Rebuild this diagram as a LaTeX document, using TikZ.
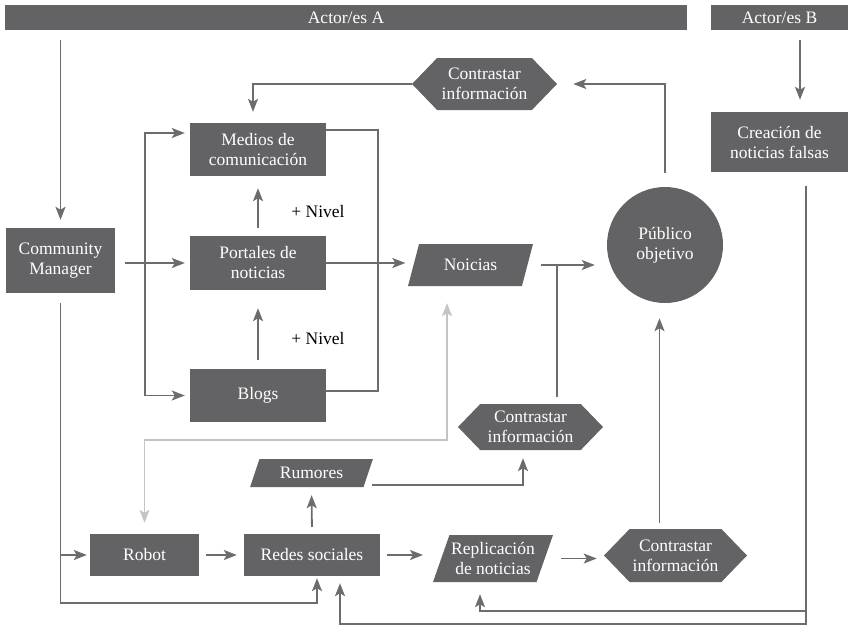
\documentclass[tikz,border=0pt]{standalone}
\usepackage{fontspec}
\setmainfont{Liberation Serif}
\usepackage{tikz}
\usetikzlibrary{arrows.meta,shapes.geometric,shapes.symbols,calc}
\definecolor{boxgray}{RGB}{99,99,101}
\definecolor{linegray}{RGB}{108,108,110}
\definecolor{lightgray}{RGB}{196,196,198}
\tikzset{
	box/.style={fill=boxgray, text=white, align=center, inner sep=0pt,
			font=\fontsize{17.5}{20}\selectfont},
	hexa/.style={box, signal, signal to=west and east, signal pointer angle=92},
	para/.style={box, trapezium, trapezium left angle=64, trapezium right angle=116,
			trapezium stretches=true},
	wire/.style={draw=linegray, line width=1.8pt},
	conn/.style={wire, -{Stealth[length=13pt,width=10pt,inset=3pt]}},
	softconn/.style={draw=lightgray, line width=1.8pt,
			{Stealth[length=13pt,width=10pt,inset=3pt]}-{Stealth[length=13pt,width=10pt,inset=3pt]}},
	note/.style={font=\fontsize{17.5}{20}\selectfont}
}

\begin{document}
\begin{tikzpicture}[x=1pt,y=-1pt]
	\useasboundingbox (0,0) rectangle (854,627);
	% actors
	\node[box, minimum width=682, minimum height=25] (barA) at (346,17.5) {Actor/es A};
	\node[box, minimum width=137, minimum height=25] (barB) at (779.5,17.5) {Actor/es B};

	\node[box, minimum width=109, minimum height=65] (cm) at (60.5,260.5) {Community\\Manager};
	\node[box, minimum width=136, minimum height=53] (medios) at (258,149.5) {Medios de\\comunicación};
	\node[box, minimum width=136, minimum height=54] (port) at (258,263) {Portales de\\noticias};
	\node[box, minimum width=136, minimum height=53] (blogs) at (258,395.5) {Blogs};
	\node[note] (niv1) at (318,212) {+ Nivel};
	\node[note] (niv2) at (318,339) {+ Nivel};

	\node[hexa, minimum width=145, minimum height=52] (ctop) at (484.5,84) {Contrastar\\información};
	\node[para, minimum width=125, minimum height=42] (noic) at (470.5,265) {Noicias};
	\node[box, circle, minimum size=116] (pub) at (665,245) {Público\\objetivo};
	\node[box, minimum width=137, minimum height=60] (crea) at (779.5,142) {Creación de\\noticias falsas};

	\node[hexa, minimum width=145, minimum height=46] (cmid) at (530.5,427) {Contrastar\\información};
	\node[para, minimum width=123, minimum height=28] (rum) at (311.5,473) {Rumores};
	\node[box, minimum width=109, minimum height=42] (robot) at (144.5,555) {Robot};
	\node[box, minimum width=136, minimum height=42] (redes) at (312,555) {Redes sociales};
	\node[para, minimum width=120, minimum height=47] (repl) at (493,558.5) {Replicación\\de noticias};
	\node[hexa, minimum width=143, minimum height=53] (cbot) at (675.5,555.5) {Contrastar\\información};

	\coordinate (split) at (145,263);
	\coordinate (join) at (557,265);

	% top part
	\draw[conn, shorten <=10pt, shorten >=8pt] (cm.north |- barA.south) -- (cm.north);
	\draw[conn, shorten <=10pt, shorten >=12pt] ([xshift=20.5pt]barB.south) -- ([xshift=20.5pt]crea.north);
	\draw[conn, shorten <=10pt, shorten >=5pt] (cm.east |- port) -- (port.west);
	\draw[conn, shorten >=5pt] (split) |- ([yshift=16.5pt]medios.west);
	\draw[conn, shorten >=5pt] (split) |- (blogs.west);
	\draw[conn, shorten <=8pt, shorten >=12pt] (port.north) -- (medios.south);
	\draw[conn, shorten <=9pt, shorten >=18pt] (blogs.north) -- (port.south);
	\draw[wire] ([yshift=19.5pt]medios.east) -- ++(52,0) |- ([yshift=4.5pt]blogs.east);
	\draw[conn, shorten >=8pt] (port.east) -- (port.east -| noic.west);
	\draw[conn, shorten <=13pt, shorten >=12pt] (noic.east) -- (noic.east -| pub.west);
	\draw[wire, shorten >=7pt] (join) -- (join |- cmid.north);
	\draw[conn, shorten <=14pt, shorten >=16pt] (pub.north) |- (ctop.east);
	\draw[conn, shorten >=11pt] (ctop.west) -| ([xshift=-5pt]medios.north);
	\draw[softconn, shorten <=17pt, shorten >=11pt] ([xshift=-23.5pt]noic.south) -- ++(0,154) -| (robot.north);

	% bottom part
	\draw[conn, shorten <=10pt, shorten >=2pt] (cm.south) -- ++(0,310) -| ([xshift=5pt]redes.south);
	\draw[conn, shorten >=3pt] (cm.south |- robot.west) -- (robot.west);
	\draw[conn, shorten <=7pt, shorten >=7pt] (robot.east) -- (redes.west);
	\draw[conn, shorten <=7pt, shorten >=8pt] (redes.north) -- (rum.south);
	\draw[conn, shorten <=4pt, shorten >=8pt] ([yshift=-12pt]rum.east) -| ([xshift=-7.5pt]cmid.south);
	\draw[conn, shorten <=7pt, shorten >=18pt] (redes.east) -- (redes.east -| repl.west);
	\draw[conn, shorten <=16pt, shorten >=7pt] (repl.east) -- (repl.east -| cbot.west);
	\draw[conn, shorten <=6pt, shorten >=15pt] ([xshift=-16pt]cbot.north) -- ([xshift=-16pt]cbot.north |- pub.south);
	\draw[conn, shorten <=14pt, shorten >=7pt] ([xshift=26.5pt]crea.south) -- ++(0,452) -| ([xshift=28pt]redes.south);
	\draw[conn, shorten >=12pt] ([xshift=26.5pt]crea.south |- 0,611) -| ([xshift=-13pt]repl.south);
\end{tikzpicture}
\end{document}
